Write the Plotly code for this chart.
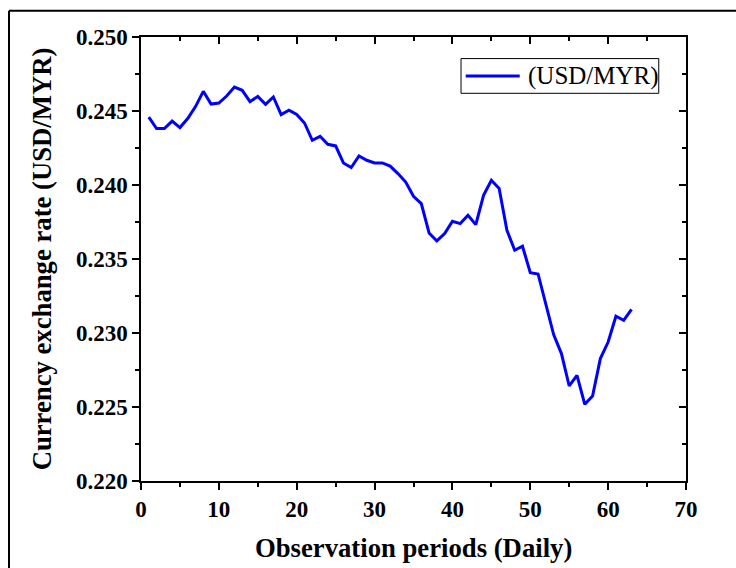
import plotly.graph_objects as go

# Data
periods = list(range(1, 64))
usd_myr = [
    0.24459, 0.24381, 0.24381, 0.24432, 0.24388, 0.24449, 0.24530, 0.24633, 0.24547, 0.24554,
    0.24601, 0.24662, 0.24640, 0.24563, 0.24599, 0.24545, 0.24595, 0.24476, 0.24505, 0.24476,
    0.24419, 0.24302, 0.24329, 0.24275, 0.24264, 0.24149, 0.24118, 0.24196, 0.24167, 0.24149,
    0.24149, 0.24128, 0.24077, 0.24020, 0.23924, 0.23874, 0.23676, 0.23622, 0.23672, 0.23755,
    0.23739, 0.23795, 0.23732, 0.23930, 0.24032, 0.23976, 0.23694, 0.23559, 0.23586, 0.23408,
    0.23399, 0.23199, 0.22989, 0.22861, 0.22642, 0.22714, 0.22518, 0.22574, 0.22827, 0.22939,
    0.23113, 0.23086, 0.23160,
]
x_range = [0, 70]
y_range = [0.220, 0.250]
series_name = "(USD/MYR)"
x_title = "<b>Observation periods (Daily)</b>"
y_title = "<b>Currency exchange rate (USD/MYR)</b>"

SERIF = "Liberation Serif"
LINE_COLOR = "#0000FF"

fig = go.Figure()
fig.add_trace(go.Scatter(
    x=periods, y=usd_myr, mode="lines", name=series_name,
    line=dict(color=LINE_COLOR, width=3), showlegend=False,
))
# invisible trace to anchor mirror axes
fig.add_trace(go.Scatter(x=[], y=[], xaxis="x2", yaxis="y2", showlegend=False, hoverinfo="skip"))

axis_common = dict(showgrid=False, zeroline=False, showline=True, linecolor="black", linewidth=1.5)
tickfont = dict(family=SERIF, size=23, color="black", weight="bold")

fig.update_layout(
    width=736, height=568,
    margin=dict(l=141, r=50, t=37, b=87),
    paper_bgcolor="white", plot_bgcolor="white",
    showlegend=False,
    font=dict(family=SERIF, color="black"),
    xaxis=dict(
        range=x_range, dtick=10, tick0=0, ticks="outside", ticklen=7, tickwidth=1.5, tickcolor="black",
        minor=dict(dtick=5, ticks="outside", ticklen=4, tickwidth=1.5, tickcolor="black"),
        tickfont=tickfont,
        **axis_common,
    ),
    yaxis=dict(
        range=y_range, dtick=0.005, tick0=0.22, tickformat=".3f", ticks="outside", ticklen=7,
        tickwidth=1.5, tickcolor="black",
        minor=dict(dtick=0.0025, ticks="outside", ticklen=4, tickwidth=1.5, tickcolor="black"),
        tickfont=tickfont,
        **axis_common,
    ),
    xaxis2=dict(
        range=x_range, overlaying="x", side="top", anchor="y", dtick=10, tick0=0,
        ticks="inside", ticklen=7, tickwidth=1.5, tickcolor="black", showticklabels=False,
        minor=dict(dtick=5, ticks="inside", ticklen=4, tickwidth=1.5, tickcolor="black"),
        **axis_common,
    ),
    yaxis2=dict(
        range=y_range, overlaying="y", side="right", anchor="x", dtick=0.005, tick0=0.22,
        ticks="inside", ticklen=7, tickwidth=1.5, tickcolor="black", showticklabels=False,
        minor=dict(dtick=0.0025, ticks="inside", ticklen=4, tickwidth=1.5, tickcolor="black"),
        **axis_common,
    ),
    annotations=[
        dict(text=x_title, xref="paper", yref="paper", x=0.5, y=-0.15, xanchor="center",
             yanchor="middle", showarrow=False,
             font=dict(family=SERIF, size=26.7, color="black")),
        dict(text=y_title, xref="paper", yref="paper", x=-0.181, y=0.5, xanchor="center",
             yanchor="middle", showarrow=False, textangle=-90,
             font=dict(family=SERIF, size=26.7, color="black")),
        # legend label
        dict(text=series_name, xref="paper", yref="paper", x=0.7057, y=0.9122, xanchor="left",
             yanchor="middle", showarrow=False,
             font=dict(family=SERIF, size=25, color="black")),
    ],
    shapes=[
        # outer frame (top and left edges)
        dict(type="line", xref="paper", yref="paper", x0=-0.2422, x1=1.2, y0=1.059, y1=1.059,
             line=dict(color="black", width=2)),
        dict(type="line", xref="paper", yref="paper", x0=-0.2422, x1=-0.2422, y0=-0.3, y1=1.059,
             line=dict(color="black", width=2)),
        # legend box and sample line
        dict(type="rect", xref="paper", yref="paper", x0=0.5872, x1=0.950, y0=0.8732, y1=0.9514,
             line=dict(color="black", width=1), fillcolor="white", layer="above"),
        dict(type="line", xref="paper", yref="paper", x0=0.5958, x1=0.6949, y0=0.9122, y1=0.9122,
             line=dict(color=LINE_COLOR, width=3), layer="above"),
    ],
)

fig.write_html("out.html")
